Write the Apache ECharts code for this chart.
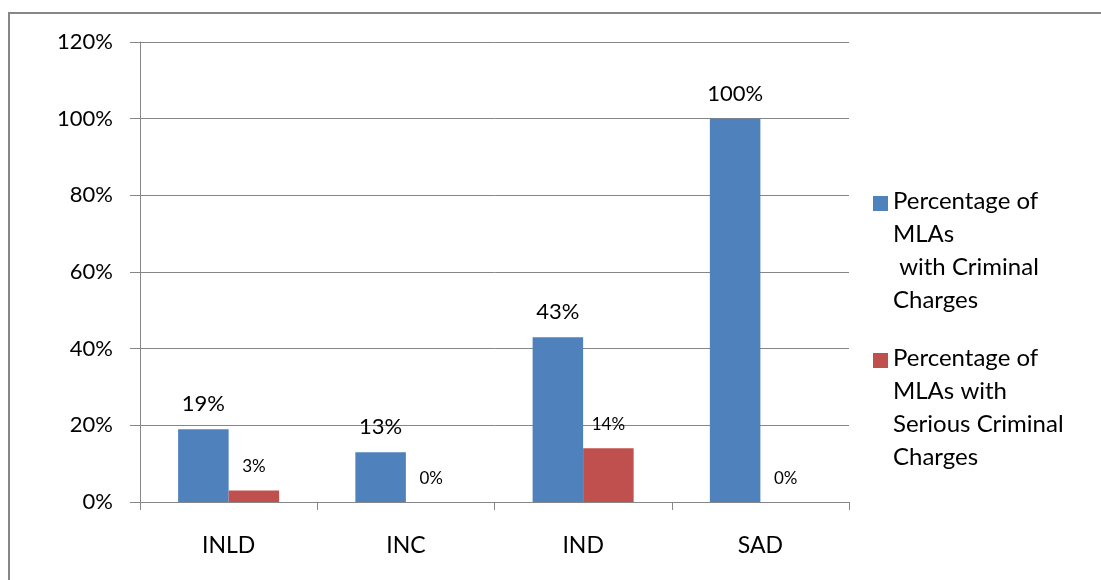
<!DOCTYPE html>
<html>
<head>
<meta charset="utf-8">
<script src="https://cdn.jsdelivr.net/npm/echarts@6/dist/echarts.min.js"></script>
<style>
  html, body { margin: 0; padding: 0; background: #fff; overflow: hidden; }
  #frame {
    position: absolute; left: 8px; top: 12px; width: 1200px; height: 700px;
    border-left: 2px solid #878787; border-top: 2px solid #878787;
  }
  #chart { position: absolute; left: 0; top: 0; width: 1101px; height: 580px; }
</style>
</head>
<body>
<div id="frame"></div>
<div id="chart"></div>
<script>
  // parties
  var categories = ['INLD', 'INC', 'IND', 'SAD'];
  // % of MLAs with criminal charges
  var criminal = [19, 13, 43, 100];
  // % of MLAs with serious criminal charges
  var serious = [3, 0, 14, 0];
  var seriesNames = [
    'Percentage of\nMLAs\n with Criminal\nCharges',
    'Percentage of\nMLAs with\nSerious Criminal\nCharges'
  ];

  var font = 'Lato';
  var gray = '#868686';

  var chart = echarts.init(document.getElementById('chart'));
  chart.setOption({
    animation: false,
    textStyle: { fontFamily: font },
    grid: { left: 140, right: 252, top: 42, bottom: 78 },
    legend: {
      orient: 'vertical',
      left: 873,
      top: 185,
      padding: 0,
      itemWidth: 15,
      itemHeight: 132,
      itemGap: 25,
      selectedMode: false,
      symbolKeepAspect: false,
      // square at the first text line, invisible points stretch the box to the text height
      icon: 'path://M0,11H15V26H0Z M0,0L0,0 M15,132L15,132',
      textStyle: { fontFamily: font, fontSize: 24, lineHeight: 33, color: '#000' },
      data: seriesNames
    },
    xAxis: {
      type: 'category',
      data: categories,
      axisLine: { lineStyle: { color: gray, width: 1 } },
      axisTick: { show: true, length: 8, lineStyle: { color: gray } },
      axisLabel: { color: '#000', fontSize: 23, margin: 32, fontFamily: font }
    },
    yAxis: {
      type: 'value',
      min: 0,
      max: 120,
      interval: 20,
      axisLine: { show: true, lineStyle: { color: gray, width: 1 } },
      axisTick: { show: true, length: 10, lineStyle: { color: gray } },
      axisLabel: { color: '#000', fontSize: 22, margin: 27, formatter: '{value}%', fontFamily: font },
      splitLine: { lineStyle: { color: gray, width: 1 } }
    },
    series: [
      {
        name: seriesNames[0],
        type: 'bar',
        data: criminal,
        barGap: '0%',
        barCategoryGap: '43%',
        itemStyle: { color: '#4F81BD' },
        label: {
          show: true, position: 'top', distance: 14,
          formatter: '{c}%', fontSize: 22, color: '#000', fontFamily: font
        }
      },
      {
        name: seriesNames[1],
        type: 'bar',
        data: serious,
        barGap: '0%',
        barCategoryGap: '43%',
        itemStyle: { color: '#C0504D' },
        label: {
          show: true, position: 'top', distance: 15,
          formatter: '{c}%', fontSize: 17, color: '#000', fontFamily: font
        }
      }
    ]
  });
</script>
</body>
</html>
